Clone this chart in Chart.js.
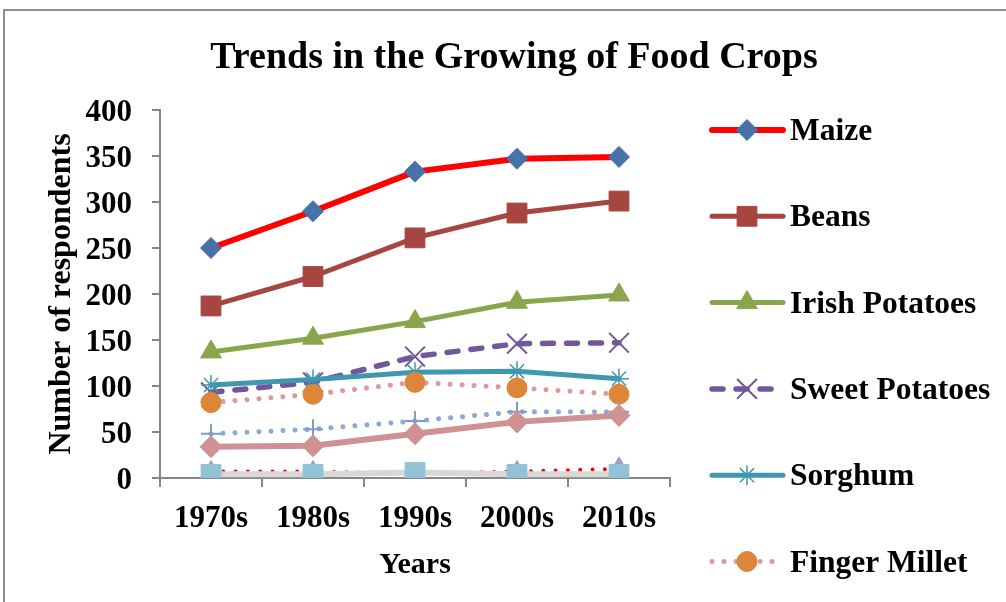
<!DOCTYPE html>
<html>
<head>
<meta charset="utf-8">
<title>Trends in the Growing of Food Crops</title>
<script src="https://cdn.jsdelivr.net/npm/chart.js@4/dist/chart.umd.min.js"></script>
<style>
  html, body { margin: 0; padding: 0; background: #fff; overflow: hidden; }
  #frame { position: absolute; left: 3px; top: 9px; width: 1100px; height: 700px; border: 2px solid #8e8e8e; }
  #wrap { position: absolute; left: 0; top: 0; width: 1006px; height: 602px; }
</style>
</head>
<body>
<div id="frame"></div>
<div id="wrap"><canvas id="chart" width="1006" height="602"></canvas></div>
<script>
// Decades surveyed
const decades = ['1970s', '1980s', '1990s', '2000s', '2010s'];

// Number of respondents growing each crop, per decade
const maize         = [250, 290, 333, 347, 349];
const beans         = [187, 219, 261, 288, 301];
const irishPotatoes = [137, 152, 170, 191, 199];
const sweetPotatoes = [93, 104, 132, 146, 147];
const sorghum       = [101, 107, 115, 116, 108];
const fingerMillet  = [82, 91, 104, 98, 91];
const crop7         = [48, 53, 62, 72, 72];
const crop8         = [34, 35, 48, 61, 68];
const crop9         = [7, 7, 5, 7, 10];
const crop10        = [8, 8, 0, 8, 12];
const crop11        = [4, 4, 6, 4, 4];

// Value axis ticks
const yTicks = [0, 50, 100, 150, 200, 250, 300, 350, 400];

const FONT = '"Liberation Serif", "Times New Roman", serif';

const series = [
  { label: 'Maize', data: maize, borderColor: '#ff0000', borderWidth: 6, borderDash: [],
    pointStyle: 'rectRot', pointRadius: 10.5, pointBackgroundColor: '#4672a8', pointBorderColor: '#4672a8', pointBorderWidth: 1 },
  { label: 'Beans', data: beans, borderColor: '#a74640', borderWidth: 5, borderDash: [],
    pointStyle: 'rect', pointRadius: 14, pointBackgroundColor: '#a74640', pointBorderColor: '#a74640', pointBorderWidth: 1 },
  { label: 'Irish Potatoes', data: irishPotatoes, borderColor: '#8ba54d', borderWidth: 5, borderDash: [],
    pointStyle: 'triangle', pointRadius: 12, pointBackgroundColor: '#8ba54d', pointBorderColor: '#8ba54d', pointBorderWidth: 1 },
  { label: 'Sweet Potatoes', data: sweetPotatoes, borderColor: '#71589a', borderWidth: 5.5, borderDash: [11, 13],
    pointStyle: 'crossRot', pointRadius: 14, pointBackgroundColor: '#71589a', pointBorderColor: '#71589a', pointBorderWidth: 2 },
  { label: 'Sorghum', data: sorghum, borderColor: '#4097b0', borderWidth: 5, borderDash: [],
    pointStyle: 'star', pointRadius: 10, pointBackgroundColor: '#4097b0', pointBorderColor: '#4097b0', pointBorderWidth: 1.5 },
  { label: 'Finger Millet', data: fingerMillet, borderColor: '#dc9a98', borderWidth: 5, borderDash: [0.01, 12],
    pointStyle: 'circle', pointRadius: 10, pointBackgroundColor: '#dd8538', pointBorderColor: '#dd8538', pointBorderWidth: 1 },
  { label: 'Crop 7', data: crop7, borderColor: '#8ea9d3', borderWidth: 5, borderDash: [0.01, 12],
    pointStyle: 'cross', pointRadius: 10, pointBackgroundColor: '#7f9cc8', pointBorderColor: '#7f9cc8', pointBorderWidth: 2 },
  { label: 'Crop 8', data: crop8, borderColor: '#d09192', borderWidth: 6, borderDash: [],
    pointStyle: 'rectRot', pointRadius: 11, pointBackgroundColor: '#d09192', pointBorderColor: '#d09192', pointBorderWidth: 1 },
  { label: 'Crop 9', data: crop9, borderColor: '#ff0000', borderWidth: 4, borderDash: [0.01, 12.3],
    pointStyle: 'circle', pointRadius: 0, pointBackgroundColor: '#ff0000', pointBorderColor: '#ff0000', pointBorderWidth: 0 },
  { label: 'Crop 10', data: crop10, borderColor: '#a497c4', borderWidth: 0, borderDash: [], showLine: false,
    pointStyle: 'triangle', pointRadius: 10, pointBackgroundColor: '#a497c4', pointBorderColor: '#a497c4', pointBorderWidth: 1 },
  { label: 'Crop 11', data: crop11, borderColor: '#d8d8d8', borderWidth: 6, borderDash: [],
    pointStyle: 'rect', pointRadius: 14, pointBackgroundColor: '#92c2d5', pointBorderColor: '#92c2d5', pointBorderWidth: 1 }
];

// Later series are painted over earlier ones
const datasets = series.map((s, i) => Object.assign({
  fill: false,
  tension: 0,
  borderCapStyle: 'round',
  borderJoinStyle: 'round',
  pointHoverRadius: s.pointRadius,
  order: series.length - i
}, s));

// Chart heading
const titlePlugin = {
  id: 'heading',
  afterDraw(chart) {
    const ctx = chart.ctx;
    ctx.save();
    ctx.font = 'bold 38px ' + FONT;
    ctx.fillStyle = '#000';
    ctx.textAlign = 'center';
    ctx.textBaseline = 'alphabetic';
    ctx.fillText('Trends in the Growing of Food Crops', 514, 68);
    ctx.restore();
  }
};

function drawMarker(ctx, ds, x, y) {
  if (!ds.pointRadius) return;
  const opts = {
    pointStyle: ds.pointStyle, radius: ds.pointRadius, rotation: 0,
    borderWidth: ds.pointBorderWidth
  };
  ctx.save();
  ctx.fillStyle = ds.pointBackgroundColor;
  ctx.strokeStyle = ds.pointBorderColor;
  ctx.lineWidth = ds.pointBorderWidth;
  ctx.setLineDash([]);
  Chart.helpers.drawPoint(ctx, opts, x, y);
  ctx.restore();
}

// Legend column on the right: line sample, marker, label
const legendPlugin = {
  id: 'sideLegend',
  afterDraw(chart) {
    const ctx = chart.ctx;
    const x0 = 712, x1 = 783, xm = 747, xt = 790;
    const top = 130, pitch = 86.3;
    chart.data.datasets.forEach((ds, i) => {
      const y = top + i * pitch;
      ctx.save();
      if (ds.showLine !== false && ds.borderWidth > 0) {
        ctx.strokeStyle = ds.borderColor;
        ctx.lineWidth = ds.borderWidth;
        ctx.lineCap = 'round';
        ctx.setLineDash(ds.borderDash || []);
        ctx.beginPath();
        ctx.moveTo(x0, y);
        ctx.lineTo(x1, y);
        ctx.stroke();
      }
      ctx.restore();
      drawMarker(ctx, ds, xm, y);
      ctx.save();
      ctx.font = 'bold 31.5px ' + FONT;
      ctx.fillStyle = '#000';
      ctx.textAlign = 'left';
      ctx.textBaseline = 'alphabetic';
      ctx.fillText(ds.label, xt, y + 10);
      ctx.restore();
    });
  }
};

const axisGrey = '#868686';

new Chart(document.getElementById('chart'), {
  type: 'line',
  data: { labels: decades, datasets },
  options: {
    responsive: false,
    animation: false,
    devicePixelRatio: 1,
    layout: { padding: { top: 110, right: 336, left: 0, bottom: 0 } },
    plugins: {
      legend: { display: false },
      title: { display: false },
      tooltip: { enabled: false }
    },
    scales: {
      x: {
        type: 'category',
        offset: true,
        grid: { offset: true, drawOnChartArea: false, drawTicks: true, tickLength: 9, color: axisGrey, lineWidth: 2 },
        border: { display: true, color: axisGrey, width: 2 },
        ticks: { color: '#000', font: { family: FONT, size: 31, weight: 'bold' }, padding: 13, maxRotation: 0, autoSkip: false },
        title: { display: true, text: 'Years', color: '#000', font: { family: FONT, size: 30, weight: 'bold' }, padding: { top: 0, bottom: 19 } },
        afterFit(scale) { scale.height = 124; }
      },
      y: {
        min: 0,
        max: 400,
        afterBuildTicks(scale) { scale.ticks = yTicks.map(v => ({ value: v })); },
        grid: { drawOnChartArea: false, drawTicks: true, tickLength: 8, color: axisGrey, lineWidth: 2 },
        border: { display: true, color: axisGrey, width: 2 },
        ticks: { color: '#000', font: { family: FONT, size: 31, weight: 'bold' }, padding: 20, labelOffset: 3 },
        title: { display: true, text: 'Number of respondents', color: '#000', font: { family: FONT, size: 32, weight: 'bold' }, padding: { top: 43, bottom: 0 } },
        afterFit(scale) { scale.width = 160; }
      }
    }
  },
  plugins: [titlePlugin, legendPlugin]
});
</script>
</body>
</html>
